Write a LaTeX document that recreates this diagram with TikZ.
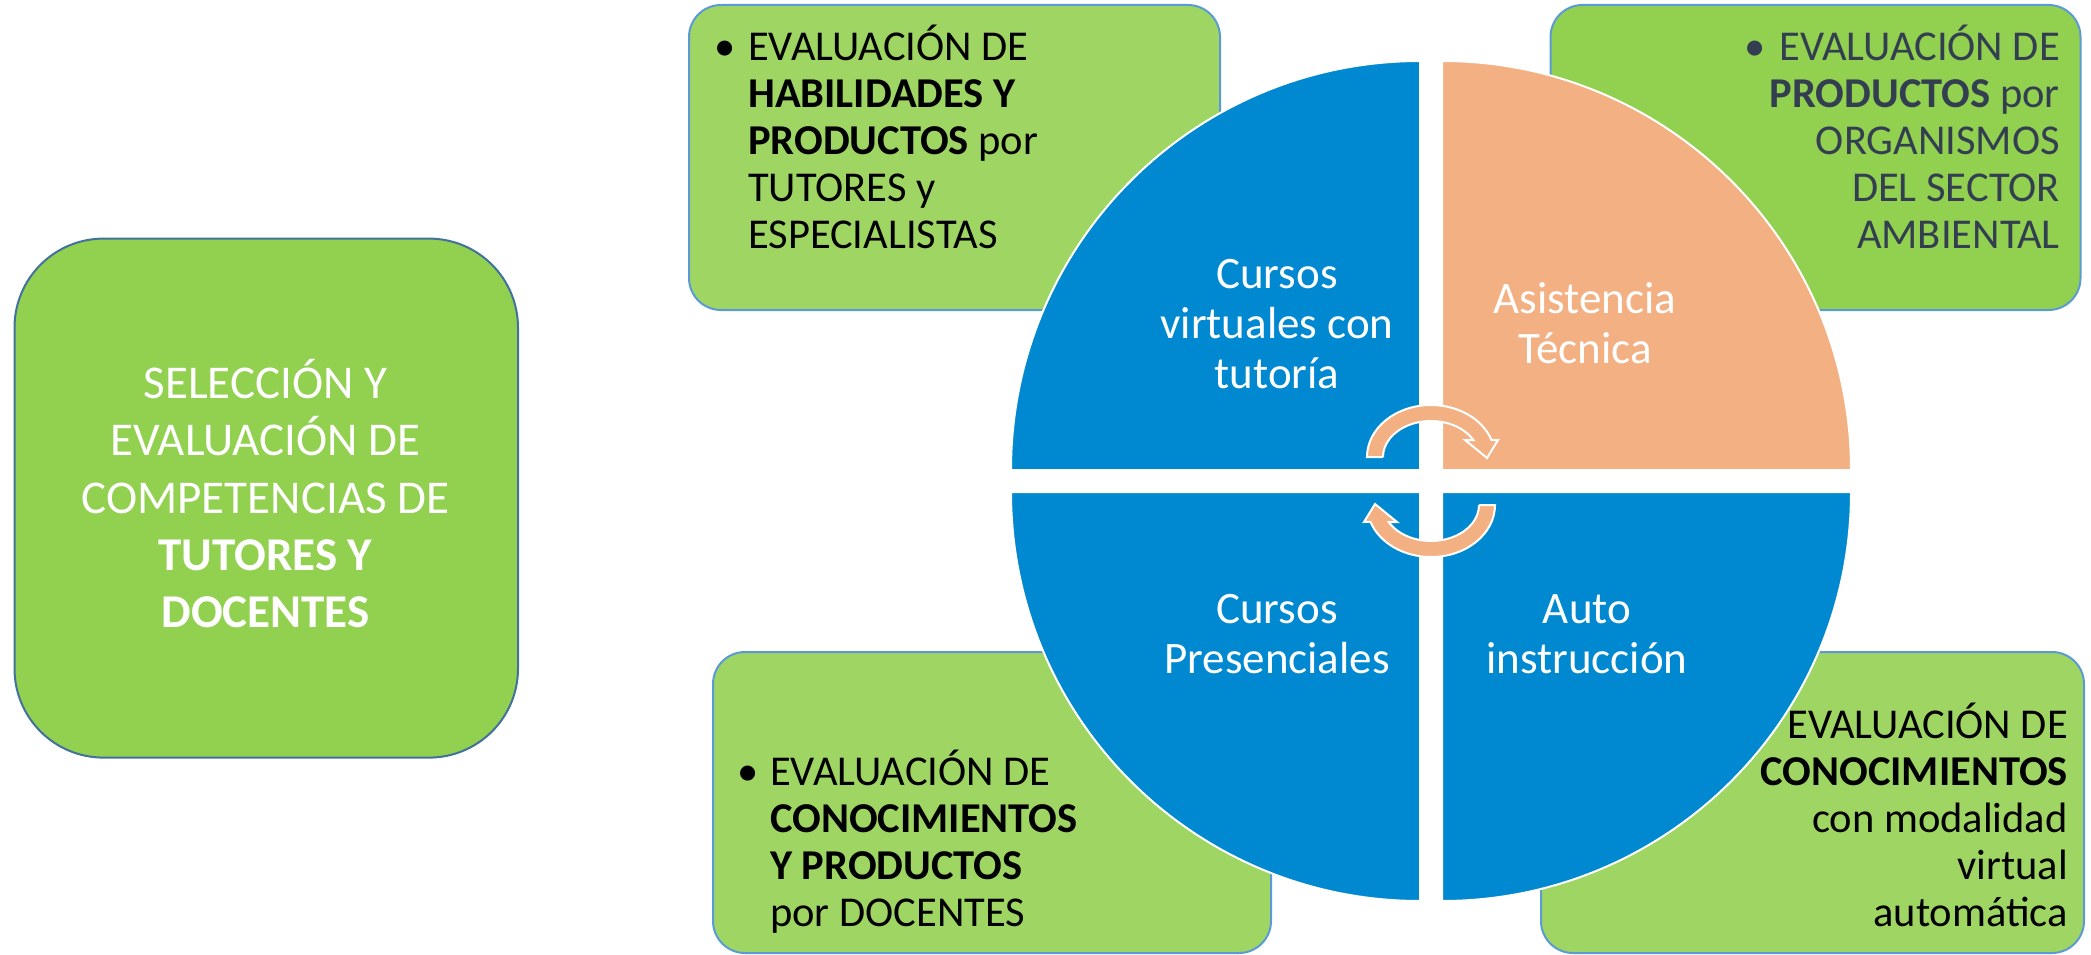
\documentclass[tikz,border=0pt]{standalone}
\usepackage{fontspec}
\setmainfont{Carlito}
\definecolor{greenMain}{HTML}{92D050}
\definecolor{greenL}{HTML}{9FD563}
\definecolor{boxBorder}{HTML}{5B9BD5}
\definecolor{mainBorder}{HTML}{41719C}
\definecolor{qblue}{HTML}{0089D1}
\definecolor{peach}{HTML}{F3B183}
\definecolor{slate}{HTML}{333F50}
\begin{document}
\begin{tikzpicture}[x=1pt,y=-1pt,
  evalbox/.style={draw=boxBorder,line width=2pt,rounded corners=32pt,inner sep=0pt},
  mainbox/.style={draw=mainBorder,fill=greenMain,line width=2pt,rounded corners=89pt,inner sep=0pt},
  sector/.style={draw=white,line width=2pt},
  cyclearrow/.style={fill=peach,draw=white,line width=2pt,line join=miter},
  boxtext/.style={inner sep=0pt,text width=440pt,font=\fontsize{42.5}{47}\selectfont},
  qtext/.style={inner sep=0pt,text width=300pt,align=flush center,anchor=base,text=white,font=\fontsize{45}{50}\selectfont}
]
\useasboundingbox (0,0) rectangle (2091,955);

% boxes
\node[mainbox,minimum width=503.5pt,minimum height=519pt] (main) at (266.25,498.1) {};
\node[evalbox,fill=greenL,minimum width=531pt,minimum height=305pt] (tl) at (954.5,157.5) {};
\node[evalbox,fill=greenMain,minimum width=530pt,minimum height=305pt] (tr) at (1815.5,157.5) {};
\node[evalbox,fill=greenL,minimum width=558pt,minimum height=301pt] (bl) at (992,802.5) {};
\node[evalbox,fill=greenL,minimum width=543pt,minimum height=301pt] (br) at (1812.5,802.5) {};

% quadrants
\fill[qblue,sector] (1420,470) -- (1011,470) arc[start angle=180,end angle=270,radius=409] -- cycle;
\fill[peach,sector] (1442,470) -- (1442,61) arc[start angle=270,end angle=360,radius=409] -- cycle;
\fill[qblue,sector] (1442,492) -- (1851,492) arc[start angle=0,end angle=90,radius=409] -- cycle;
\fill[qblue,sector] (1420,492) -- (1420,901) arc[start angle=90,end angle=180,radius=409] -- cycle;

% cycle arrows
\path[cyclearrow] (1383,457) -- (1367,457) arc[start angle=-180,end angle=-19,x radius=64,y radius=52]
  -- (1498,440) -- (1487,458) -- (1465,440) -- (1473.3,440)
  arc[start angle=-28.2,end angle=-180,x radius=48,y radius=36] -- cycle;
\begin{scope}[rotate around={180:(1431,481)}]
\path[cyclearrow] (1383,457) -- (1367,457) arc[start angle=-180,end angle=-19,x radius=64,y radius=52]
  -- (1498,440) -- (1487,458) -- (1465,440) -- (1473.3,440)
  arc[start angle=-28.2,end angle=-180,x radius=48,y radius=36] -- cycle;
\end{scope}

% texts
\node[inner sep=0pt,text width=480pt,align=flush center,anchor=base,text=white,
  font=\fontsize{47}{57.3}\selectfont] (maintext) at (265.5,398.6)
  {SELECCIÓN Y\\EVALUACIÓN DE\\COMPETENCIAS DE\\\textbf{TUTORES Y}\\\textbf{DOCENTES}};

\node[boxtext,align=flush left,anchor=base west] (tltext) at (748,61)
  {\llap{\makebox[34pt][l]{•}}EVALUACIÓN DE\\\textbf{HABILIDADES Y}\\\textbf{PRODUCTOS} por\\TUTORES y\\ESPECIALISTAS};
\node[boxtext,align=flush right,anchor=base east,text=slate] (trtext) at (2060,61)
  {\makebox[35pt][l]{•}EVALUACIÓN DE\\\textbf{PRODUCTOS} por\\ORGANISMOS\\DEL SECTOR\\AMBIENTAL};
\node[boxtext,align=flush left,anchor=base west] (bltext) at (770,785)
  {\llap{\makebox[33pt][l]{•}}EVALUACIÓN DE\\\textbf{CONOCIMIENTOS}\\\textbf{Y PRODUCTOS}\\por DOCENTES};
\node[boxtext,align=flush right,anchor=base east] (brtext) at (2068,738)
  {EVALUACIÓN DE\\\textbf{CONOCIMIENTOS}\\con modalidad\\virtual\\automática};

\node[qtext] (q1) at (1277,288) {Cursos\\virtuales con\\tutoría};
\node[qtext] (q2) at (1585,313) {Asistencia\\Técnica};
\node[qtext] (q3) at (1277,623) {Cursos\\Presenciales};
\node[qtext] (q4) at (1587,623) {Auto\\instrucción};
\end{tikzpicture}
\end{document}
